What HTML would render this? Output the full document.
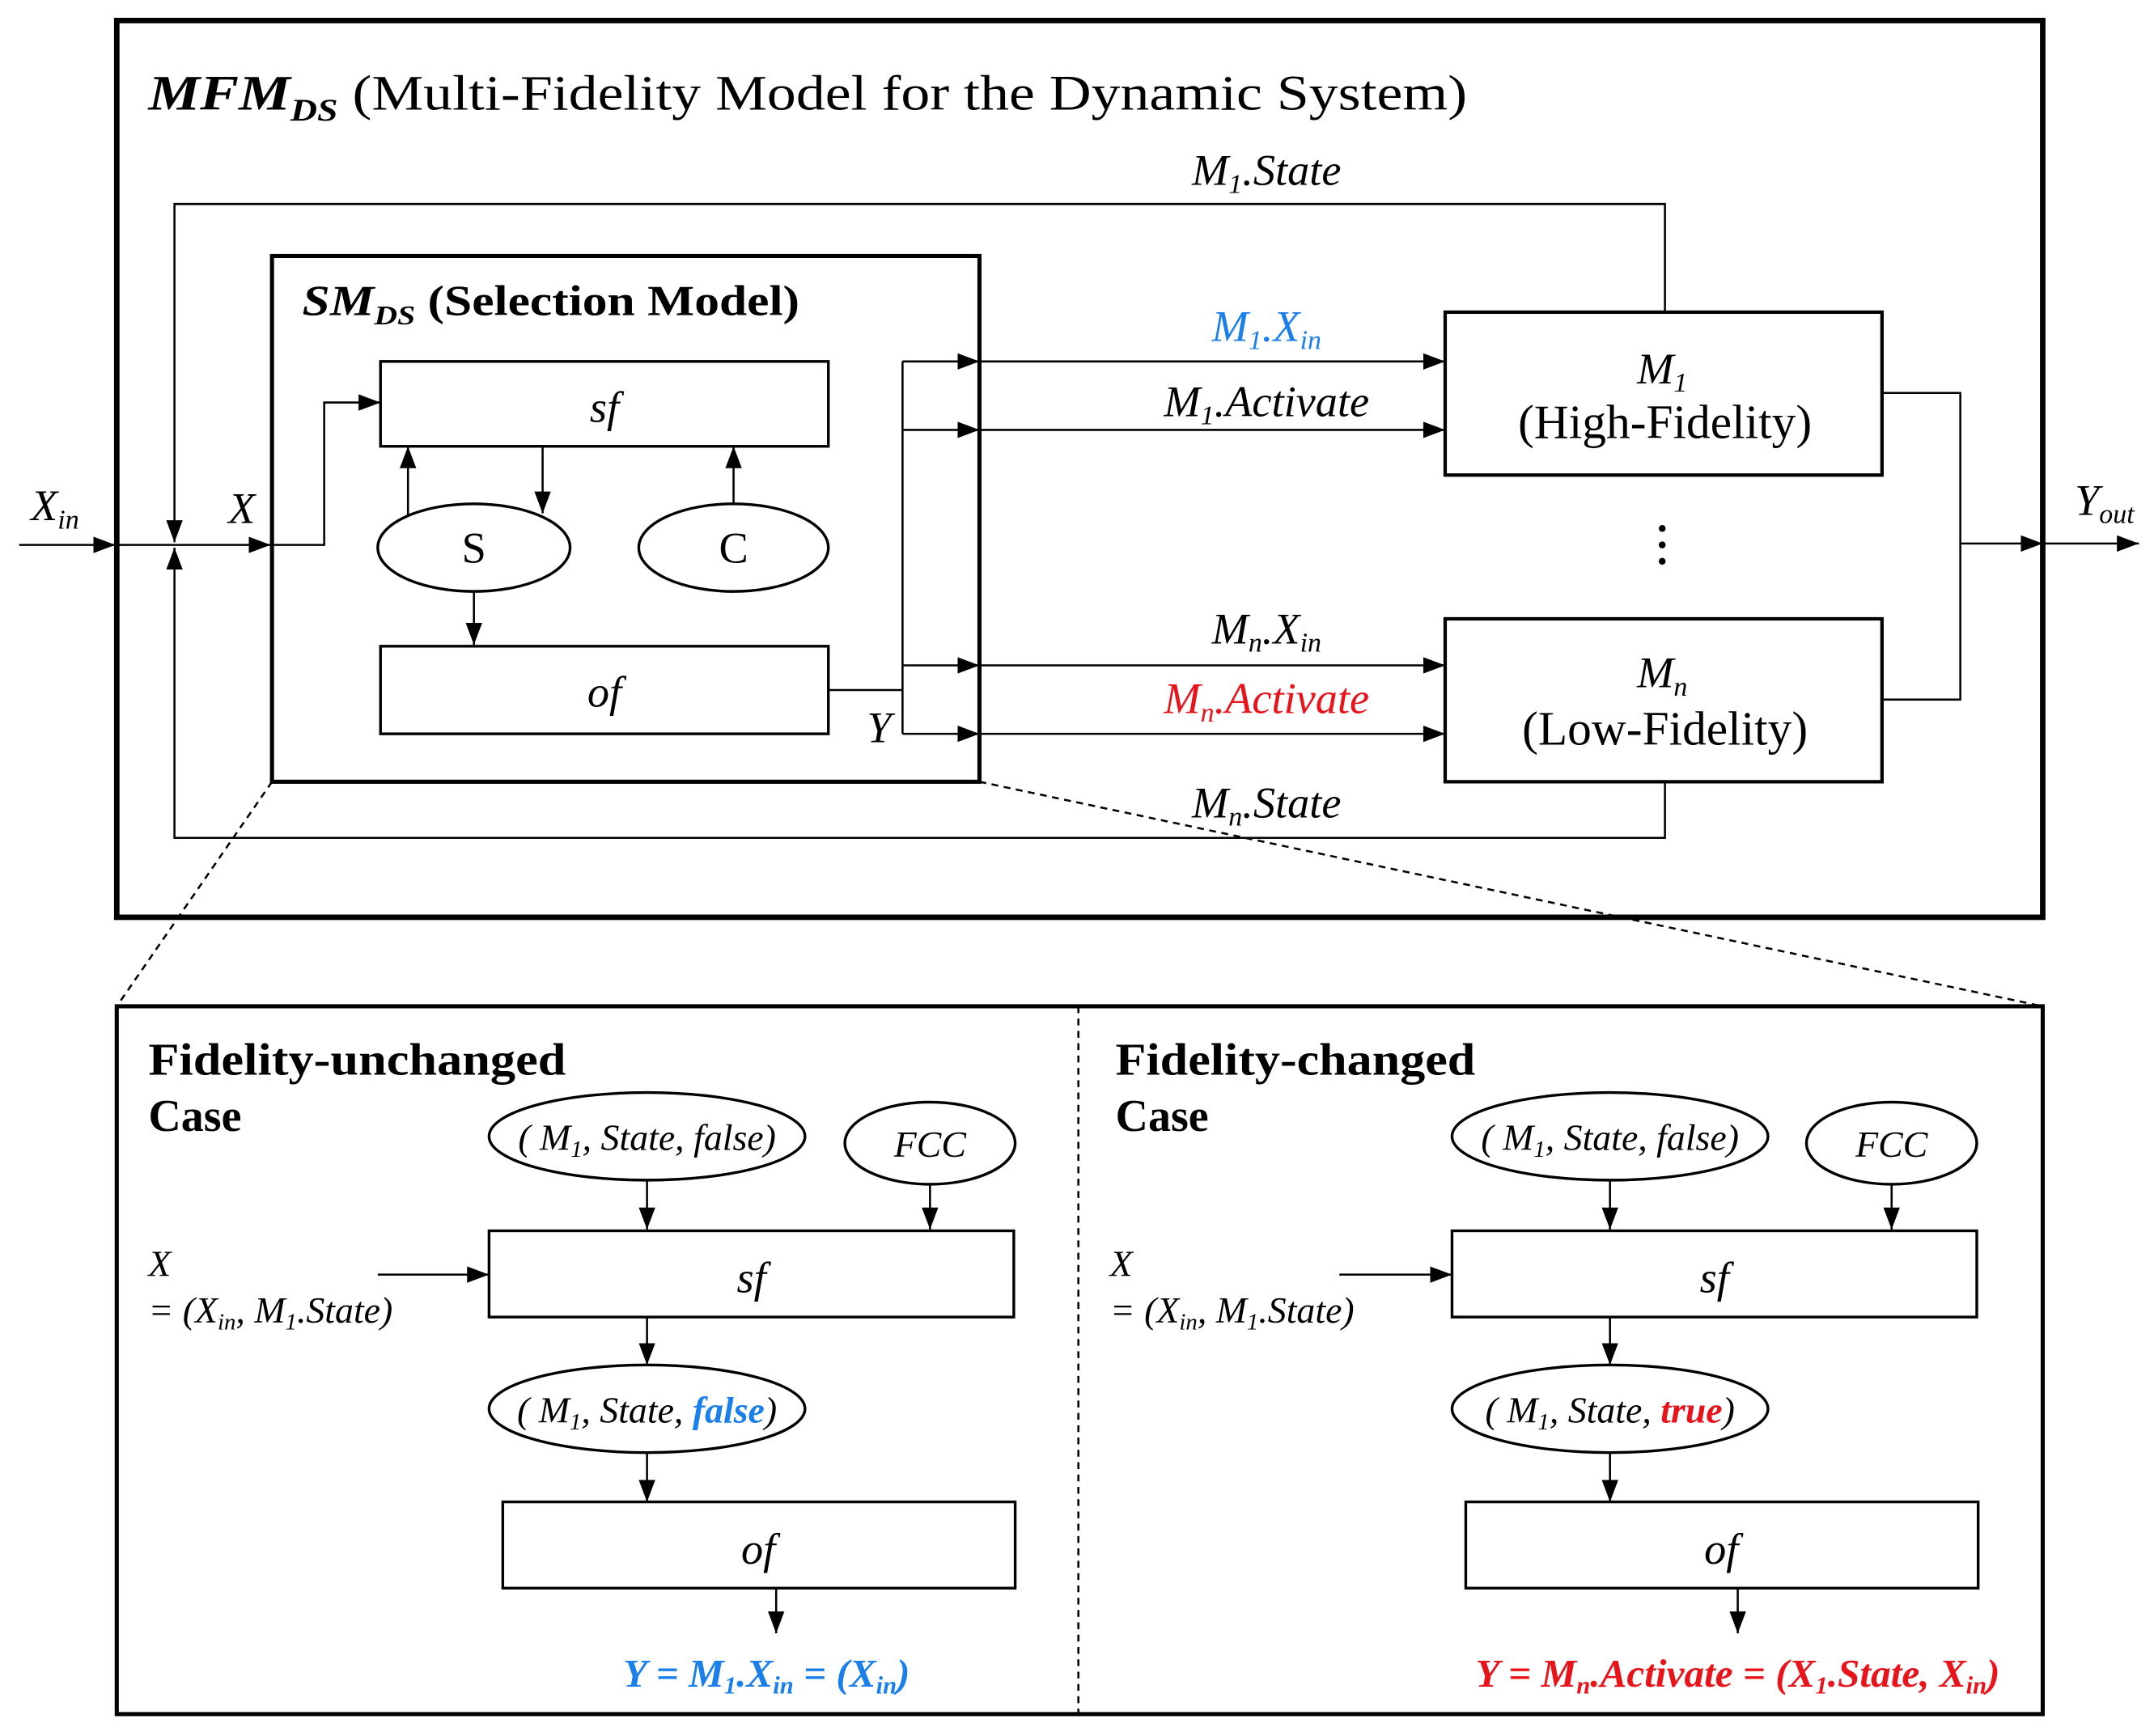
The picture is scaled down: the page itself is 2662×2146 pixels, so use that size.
<!DOCTYPE html>
<html><head><meta charset="utf-8"><style>
html,body{margin:0;padding:0;background:#fff;}
svg{display:block;}
text{font-family:"Liberation Serif",serif;}
</style></head><body>
<svg width="2662" height="2146" viewBox="0 0 1568 1268" preserveAspectRatio="none" xmlns="http://www.w3.org/2000/svg">
<defs>
<marker id="b" markerWidth="18" markerHeight="12" refX="16" refY="6" orient="auto" markerUnits="userSpaceOnUse">
<path d="M0,0 L16,6 L0,12 z"/>
</marker>
</defs>
<g fill="none" stroke="#000" stroke-width="1.5">
<rect x="85" y="15" width="1402" height="655" stroke-width="4"/>
<rect x="198" y="187" width="515" height="384" stroke-width="3"/>
<polyline points="1212,228 1212,149 127,149 127,396" marker-end="url(#b)"/>
<polyline points="1212,571 1212,612 127,612 127,400" marker-end="url(#b)"/>
<line x1="14" y1="398" x2="84" y2="398" marker-end="url(#b)"/>
<line x1="84" y1="398" x2="197" y2="398" marker-end="url(#b)"/>
<rect x="277" y="264" width="326" height="62" stroke-width="2"/>
<polyline points="198,398 236,398 236,294 277,294" marker-end="url(#b)"/>
<ellipse cx="345" cy="400" rx="70" ry="32" stroke-width="2"/>
<ellipse cx="534" cy="400" rx="69" ry="32" stroke-width="2"/>
<line x1="297" y1="376" x2="297" y2="326" marker-end="url(#b)"/>
<line x1="395" y1="326" x2="395" y2="375" marker-end="url(#b)"/>
<line x1="534" y1="368" x2="534" y2="326" marker-end="url(#b)"/>
<line x1="345" y1="432" x2="345" y2="471" marker-end="url(#b)"/>
<rect x="277" y="472" width="326" height="64" stroke-width="2"/>
<polyline points="603,504 657,504"/>
<line x1="657" y1="264" x2="657" y2="536"/>
<line x1="657" y1="264" x2="713" y2="264" marker-end="url(#b)"/>
<line x1="657" y1="314" x2="713" y2="314" marker-end="url(#b)"/>
<line x1="657" y1="486" x2="713" y2="486" marker-end="url(#b)"/>
<line x1="657" y1="536" x2="713" y2="536" marker-end="url(#b)"/>
<line x1="713" y1="264" x2="1052" y2="264" marker-end="url(#b)"/>
<line x1="713" y1="314" x2="1052" y2="314" marker-end="url(#b)"/>
<line x1="713" y1="486" x2="1052" y2="486" marker-end="url(#b)"/>
<line x1="713" y1="536" x2="1052" y2="536" marker-end="url(#b)"/>
<rect x="1052" y="228" width="318" height="119" stroke-width="2.5"/>
<rect x="1052" y="452" width="318" height="119" stroke-width="2.5"/>
<polyline points="1370,287 1427,287 1427,511 1370,511"/>
<line x1="1427" y1="397" x2="1487" y2="397" marker-end="url(#b)"/>
<line x1="1487" y1="397" x2="1557" y2="397" marker-end="url(#b)"/>
<line x1="198" y1="571" x2="85" y2="735" stroke-dasharray="5,4"/>
<line x1="713" y1="571" x2="1487" y2="735" stroke-dasharray="5,4"/>
<rect x="85" y="735" width="1402" height="517" stroke-width="3"/>
<line x1="785" y1="735" x2="785" y2="1252" stroke-dasharray="5,4"/>
<ellipse cx="471" cy="830" rx="115" ry="32" stroke-width="2"/>
<ellipse cx="677" cy="835" rx="62" ry="30" stroke-width="2"/>
<line x1="471" y1="862" x2="471" y2="898" marker-end="url(#b)"/>
<line x1="677" y1="865" x2="677" y2="898" marker-end="url(#b)"/>
<rect x="356" y="899" width="382" height="63" stroke-width="2"/>
<line x1="275" y1="931" x2="356" y2="931" marker-end="url(#b)"/>
<line x1="471" y1="962" x2="471" y2="997" marker-end="url(#b)"/>
<ellipse cx="471" cy="1029" rx="115" ry="32" stroke-width="2"/>
<line x1="471" y1="1061" x2="471" y2="1097" marker-end="url(#b)"/>
<rect x="366" y="1097" width="373" height="63" stroke-width="2"/>
<line x1="565" y1="1160" x2="565" y2="1193" marker-end="url(#b)"/>
<ellipse cx="1172" cy="830" rx="115" ry="32" stroke-width="2"/>
<ellipse cx="1377" cy="835" rx="62" ry="30" stroke-width="2"/>
<line x1="1172" y1="862" x2="1172" y2="898" marker-end="url(#b)"/>
<line x1="1377" y1="865" x2="1377" y2="898" marker-end="url(#b)"/>
<rect x="1057" y="899" width="382" height="63" stroke-width="2"/>
<line x1="975" y1="931" x2="1057" y2="931" marker-end="url(#b)"/>
<line x1="1172" y1="962" x2="1172" y2="997" marker-end="url(#b)"/>
<ellipse cx="1172" cy="1029" rx="115" ry="32" stroke-width="2"/>
<line x1="1172" y1="1061" x2="1172" y2="1097" marker-end="url(#b)"/>
<rect x="1067" y="1097" width="373" height="63" stroke-width="2"/>
<line x1="1265" y1="1160" x2="1265" y2="1193" marker-end="url(#b)"/>
</g>
<g fill="#000">
<circle cx="1210" cy="386" r="2.5"/><circle cx="1210" cy="398" r="2.5"/><circle cx="1210" cy="410" r="2.5"/>
</g>
<text x="108" y="80" font-size="36" textLength="960" lengthAdjust="spacingAndGlyphs"><tspan font-weight="bold" font-style="italic">MFM</tspan><tspan font-size="23" font-style="italic" font-weight="bold" dy="8">DS</tspan><tspan dy="-8"> (Multi-Fidelity Model for the Dynamic System)</tspan></text>
<g font-size="32" font-style="italic" text-anchor="middle">
<text x="922" y="135">M<tspan font-size="20" dy="6">1</tspan><tspan dy="-6">.State</tspan></text>
<text x="922" y="597">M<tspan font-size="20" dy="6">n</tspan><tspan dy="-6">.State</tspan></text>
<text x="922" y="249" fill="#1a7fe8">M<tspan font-size="20" dy="6">1</tspan><tspan dy="-6">.X</tspan><tspan font-size="20" dy="6">in</tspan></text>
<text x="922" y="304">M<tspan font-size="20" dy="6">1</tspan><tspan dy="-6">.Activate</tspan></text>
<text x="922" y="470">M<tspan font-size="20" dy="6">n</tspan><tspan dy="-6">.X</tspan><tspan font-size="20" dy="6">in</tspan></text>
<text x="922" y="521" fill="#e8141c">M<tspan font-size="20" dy="6">n</tspan><tspan dy="-6">.Activate</tspan></text>
<text x="440" y="308">sf</text>
<text x="440" y="516">of</text>
<text x="40" y="380">X<tspan font-size="20" dy="6">in</tspan></text>
<text x="176" y="382">X</text>
<text x="640" y="542">Y</text>
<text x="1532" y="376">Y<tspan font-size="20" dy="6">out</tspan></text>
<text x="1210" y="280">M<tspan font-size="20" dy="6">1</tspan></text>
<text x="1210" y="502">M<tspan font-size="20" dy="6">n</tspan></text>
<text x="547" y="944">sf</text>
<text x="552" y="1142">of</text>
<text x="1248" y="944">sf</text>
<text x="1253" y="1142">of</text>
</g>
<g font-size="32" text-anchor="middle">
<text x="345" y="411">S</text>
<text x="534" y="411">C</text>
<text x="1212" y="320" font-size="35">(High-Fidelity)</text>
<text x="1212" y="544" font-size="35">(Low-Fidelity)</text>
</g>
<text x="220" y="230" font-size="31" font-weight="bold" textLength="362" lengthAdjust="spacingAndGlyphs"><tspan font-style="italic">SM</tspan><tspan font-size="20" font-style="italic" dy="7">DS</tspan><tspan dy="-7"> (Selection Model)</tspan></text>
<g font-size="33" font-weight="bold">
<text x="108" y="785" textLength="304" lengthAdjust="spacingAndGlyphs">Fidelity-unchanged</text><text x="108" y="826">Case</text>
<text x="812" y="785" textLength="262" lengthAdjust="spacingAndGlyphs">Fidelity-changed</text><text x="812" y="826">Case</text>
</g>
<g font-size="27" font-style="italic">
<text x="471" y="840" text-anchor="middle">( M<tspan font-size="17" dy="5">1</tspan><tspan dy="-5">, State, false)</tspan></text>
<text x="677" y="845" text-anchor="middle">FCC</text>
<text x="471" y="1039" text-anchor="middle">( M<tspan font-size="17" dy="5">1</tspan><tspan dy="-5">, State, </tspan><tspan font-weight="bold" fill="#1a7fe8">false</tspan>)</text>
<text x="108" y="932">X</text>
<text x="108" y="966">= (X<tspan font-size="17" dy="5">in</tspan><tspan dy="-5">, M</tspan><tspan font-size="17" dy="5">1</tspan><tspan dy="-5">.State)</tspan></text>
<text x="1172" y="840" text-anchor="middle">( M<tspan font-size="17" dy="5">1</tspan><tspan dy="-5">, State, false)</tspan></text>
<text x="1377" y="845" text-anchor="middle">FCC</text>
<text x="1172" y="1039" text-anchor="middle">( M<tspan font-size="17" dy="5">1</tspan><tspan dy="-5">, State, </tspan><tspan font-weight="bold" fill="#e8141c">true</tspan>)</text>
<text x="808" y="932">X</text>
<text x="808" y="966">= (X<tspan font-size="17" dy="5">in</tspan><tspan dy="-5">, M</tspan><tspan font-size="17" dy="5">1</tspan><tspan dy="-5">.State)</tspan></text>
</g>
<g font-size="29" font-style="italic" font-weight="bold" text-anchor="middle">
<text x="558" y="1232" fill="#1a7fe8">Y = M<tspan font-size="18" dy="5">1</tspan><tspan dy="-5">.X</tspan><tspan font-size="18" dy="5">in</tspan><tspan dy="-5"> = (X</tspan><tspan font-size="18" dy="5">in</tspan><tspan dy="-5">)</tspan></text>
<text x="1265" y="1232" fill="#e8141c">Y = M<tspan font-size="18" dy="5">n</tspan><tspan dy="-5">.Activate = (X</tspan><tspan font-size="18" dy="5">1</tspan><tspan dy="-5">.State, X</tspan><tspan font-size="18" dy="5">in</tspan><tspan dy="-5">)</tspan></text>
</g>
</svg>
</body></html>
